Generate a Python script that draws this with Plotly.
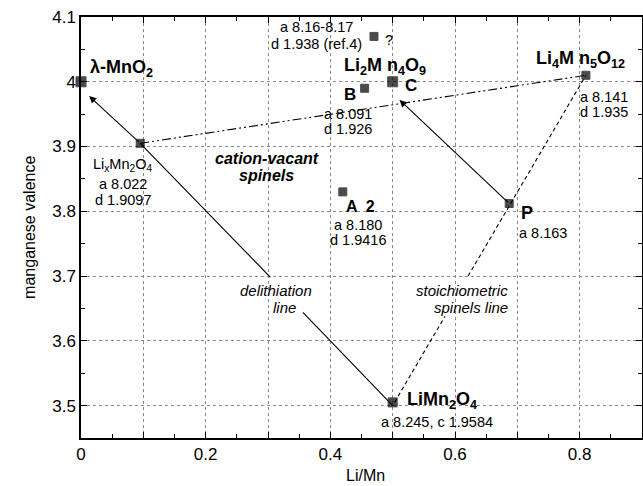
import plotly.graph_objects as go

# ---- data ----
pt_names = ["lambda", "LixMn2O4", "B", "C", "q", "Li4Mn5O12", "A", "P", "LiMn2O4"]
pt_x = [0.0, 0.095, 0.455, 0.50, 0.47, 0.81, 0.42, 0.687, 0.50]
pt_y = [4.0, 3.905, 3.99, 4.0, 4.07, 4.01, 3.83, 3.812, 3.505]
pt_size = [10, 8, 8, 10, 8, 8, 8, 8, 9]

delith_lo_x = [0.50, 0.356]
delith_lo_y = [3.50, 3.644]
delith_hi_x = [0.304, 0.095]
delith_hi_y = [3.698, 3.905]
stoich_lo_x = [0.503, 0.584]
stoich_lo_y = [3.505, 3.638]
stoich_hi_x = [0.621, 0.81]
stoich_hi_y = [3.70, 4.01]
vacant_x = [0.095, 0.81]
vacant_y = [3.905, 4.01]

arrow1 = dict(tail=(0.095, 3.905), head=(0.013, 3.978))
arrow2 = dict(tail=(0.687, 3.812), head=(0.511, 3.972))

x_tickvals = [0, 0.1, 0.2, 0.3, 0.4, 0.5, 0.6, 0.7, 0.8]
x_ticktext = ["0", "", "0.2", "", "0.4", "", "0.6", "", "0.8"]
y_tickvals = [3.5, 3.6, 3.7, 3.8, 3.9, 4.0, 4.1]
y_ticktext = ["3.5", "3.6", "3.7", "3.8", "3.9", "4", "4.1"]

FONT = "Liberation Sans, Arial, Helvetica, sans-serif"

fig = go.Figure()

line_sets = [
    (delith_lo_x, delith_lo_y, "solid"),
    (delith_hi_x, delith_hi_y, "solid"),
    (stoich_lo_x, stoich_lo_y, "4px,3px"),
    (stoich_hi_x, stoich_hi_y, "4px,3px"),
    (vacant_x, vacant_y, "9px,3px,2px,3px,2px,3px"),
]
for xs, ys, dash in line_sets:
    fig.add_trace(go.Scatter(x=xs, y=ys, mode="lines",
                             line=dict(color="black", width=1.1, dash=dash),
                             hoverinfo="skip", showlegend=False))

fig.add_trace(go.Scatter(x=pt_x, y=pt_y, mode="markers", text=pt_names,
                         marker=dict(symbol="square", size=pt_size, color="black",
                                     line=dict(color="black", width=1)),
                         showlegend=False, cliponaxis=False))

for a in (arrow1, arrow2):
    fig.add_annotation(x=a["head"][0], y=a["head"][1], ax=a["tail"][0], ay=a["tail"][1],
                       xref="x", yref="y", axref="x", ayref="y", text="",
                       showarrow=True, arrowhead=2, arrowsize=1.3, arrowwidth=1.1,
                       arrowcolor="black")

def label(x, y, text, size=14, xanchor="center", bold=False, italic=False):
    t = text
    if bold:
        t = "<b>" + t + "</b>"
    if italic:
        t = "<i>" + t + "</i>"
    fig.add_annotation(x=x, y=y, xref="x", yref="y", text=t, showarrow=False,
                       xanchor=xanchor, yanchor="middle",
                       font=dict(family=FONT, size=size, color="black"))

# formula labels
label(0.011, 4.02, "λ-MnO<sub>2</sub>", 18, "left", bold=True)
label(0.419, 4.023, "Li<sub>2</sub>M n<sub>4</sub>O<sub>9</sub>", 18, "left", bold=True)
label(0.726, 4.035, "Li<sub>4</sub>M n<sub>5</sub>O<sub>12</sub>", 18, "left", bold=True)
label(0.52, 3.508, "LiMn<sub>2</sub>O<sub>4</sub>", 18, "left", bold=True)
label(0.431, 3.981, "B", 17, bold=True)
label(0.53, 3.995, "C", 17, bold=True)
label(0.449, 3.807, "A  2", 16, bold=True)
label(0.716, 3.798, "P", 18, bold=True)

# lattice data labels
label(0.378, 4.084, "a 8.16-8.17", 14.5)
label(0.378, 4.059, "d 1.938 (ref.4)", 14.5)
label(0.494, 4.065, "?", 14.5)
label(0.429, 3.950, "a 8.091", 14.5)
label(0.429, 3.927, "d 1.926", 14.5)
label(0.797, 3.977, "a 8.141", 14.5, "left")
label(0.797, 3.954, "d 1.935", 14.5, "left")
label(0.067, 3.872, "Li<sub>x</sub>Mn<sub>2</sub>O<sub>4</sub>", 14.5)
label(0.067, 3.842, "a 8.022", 14.5)
label(0.067, 3.817, "d 1.9097", 14.5)
label(0.444, 3.779, "a 8.180", 14.5)
label(0.444, 3.755, "d 1.9416", 14.5)
label(0.7, 3.767, "a 8.163", 14.5, "left")
label(0.571, 3.474, "a 8.245, c 1.9584", 14.5)

label(0.298, 3.881, "cation-vacant", 16, bold=True, italic=True)
label(0.298, 3.855, "spinels", 16, bold=True, italic=True)
label(0.313, 3.677, "delithiation", 15, italic=True)
label(0.326, 3.651, "line", 15, italic=True)
label(0.688, 3.677, "stoichiometric", 15, "right", italic=True)
label(0.688, 3.651, "spinels line", 15, "right", italic=True)

# axis titles
fig.add_annotation(x=0.507, y=-0.09, xref="paper", yref="paper", text="Li/Mn",
                   showarrow=False, xanchor="center", yanchor="middle",
                   font=dict(family=FONT, size=16, color="black"))
fig.add_annotation(x=-0.092, y=0.5, xref="paper", yref="paper", text="manganese valence",
                   showarrow=False, xanchor="center", yanchor="middle", textangle=-90,
                   font=dict(family=FONT, size=16, color="black"))

axis_common = dict(
    showline=True, linecolor="black", linewidth=1.5, mirror="ticks",
    ticks="inside", ticklen=6, tickwidth=1.2, tickcolor="black",
    showgrid=True, gridcolor="#8a8a8a", gridwidth=1, griddash="dot",
    zeroline=False, tickfont=dict(family=FONT, size=17, color="black"),
    automargin=False,
    minor=dict(ticks="inside", ticklen=4, tickwidth=1, tickcolor="black", dtick=0.05,
               showgrid=False),
)

fig.update_xaxes(range=[0, 0.9], tickmode="array", tickvals=x_tickvals, ticktext=x_ticktext,
                 **axis_common)
fig.update_yaxes(range=[3.45, 4.1], tickmode="array", tickvals=y_tickvals, ticktext=y_ticktext,
                 **axis_common)

fig.update_layout(width=643, height=486, margin=dict(l=81, r=1, t=17, b=48),
                  paper_bgcolor="white", plot_bgcolor="white", showlegend=False)

fig.write_html("out.html")
